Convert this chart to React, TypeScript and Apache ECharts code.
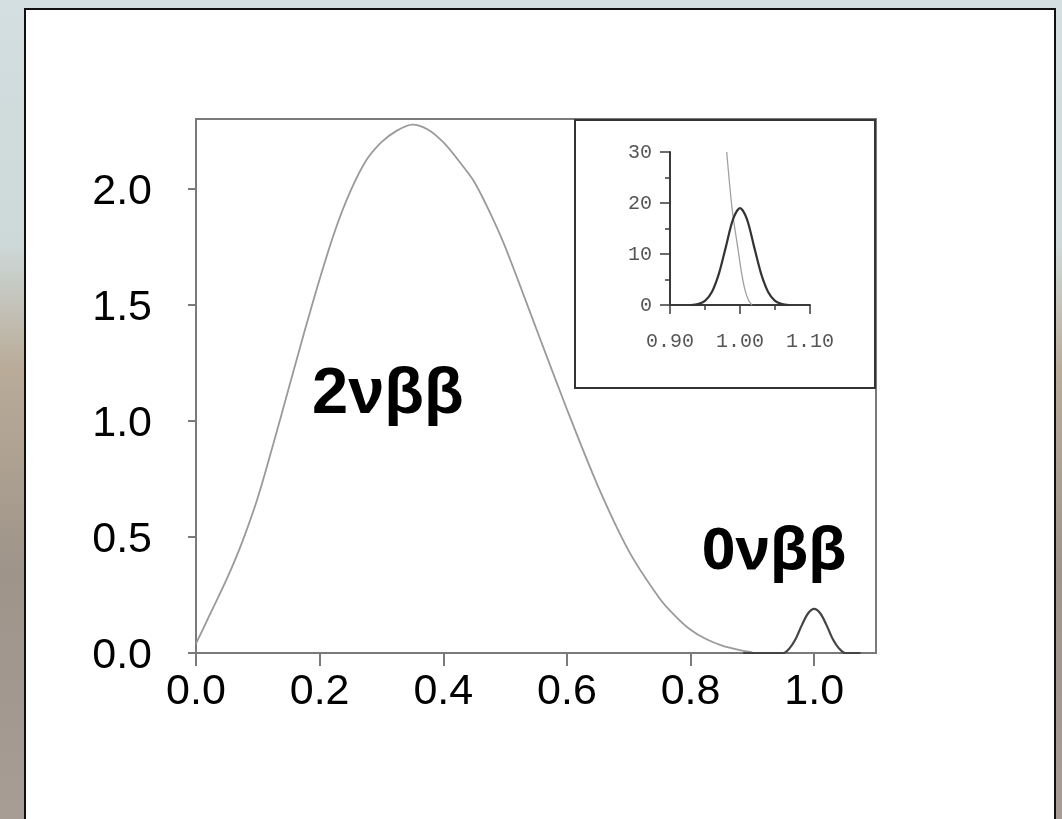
import React, { useEffect, useRef } from "react";
import * as echarts from "echarts";

// Main plot: 2νββ continuum (x = energy / Q, y = rate)
const twoNuX = [0.0, 0.025, 0.05, 0.075, 0.1, 0.125, 0.15, 0.175, 0.2, 0.225, 0.25, 0.275, 0.3, 0.325, 0.35, 0.375, 0.4, 0.425, 0.45, 0.475, 0.5, 0.55, 0.6, 0.65, 0.7, 0.75, 0.775, 0.8, 0.825, 0.85, 0.88, 0.9];
const twoNuY = [0.04, 0.18, 0.32, 0.48, 0.67, 0.9, 1.14, 1.38, 1.61, 1.82, 1.99, 2.12, 2.2, 2.25, 2.276, 2.255, 2.2, 2.12, 2.03, 1.9, 1.75, 1.4, 1.05, 0.72, 0.44, 0.235, 0.16, 0.1, 0.06, 0.033, 0.012, 0.003];

// Main plot: 0νββ peak
const zeroNuX = [0.885, 0.95, 0.96, 0.97, 0.98, 0.99, 1.0, 1.01, 1.02, 1.03, 1.04, 1.05, 1.075];
const zeroNuY = [0, 0, 0.02, 0.06, 0.12, 0.17, 0.19, 0.17, 0.12, 0.06, 0.02, 0, 0];

// Inset: zoom around the endpoint
const insetPeakX = [0.93, 0.94, 0.95, 0.96, 0.97, 0.98, 0.99, 1.0, 1.01, 1.02, 1.03, 1.04, 1.05, 1.06, 1.07];
const insetPeakY = [0, 0.2, 0.8, 2.6, 6.2, 11.5, 16.8, 19, 16.8, 11.5, 6.2, 2.6, 0.8, 0.2, 0];
const insetTailX = [0.981, 0.989, 0.996, 1.002, 1.007, 1.012, 1.017];
const insetTailY = [30, 18.5, 12, 6.5, 3, 1, 0];

const mainXTicks = [0, 0.2, 0.4, 0.6, 0.8, 1.0];
const mainYTicks = [0, 0.5, 1.0, 1.5, 2.0];

const labelTwoNu = "2νββ";
const labelZeroNu = "0νββ";

const pairs = (xs: number[], ys: number[]) => xs.map((x, i) => [x, ys[i]]);

export default function App() {
  const ref = useRef<HTMLDivElement>(null);
  useEffect(() => {
    if (!ref.current) return;
    const chart = echarts.init(ref.current, null, { renderer: "svg" });
    const axisGray = "#7a7a7a";
    const insetDark = "#3a3a3a";
    const tickFont = "'Liberation Sans', Arial, sans-serif";
    chart.setOption({
      animation: false,
      backgroundColor: "transparent",
      graphic: [
        {
          type: "rect",
          z: -10,
          shape: { x: 0, y: 0, width: 1062, height: 819 },
          style: {
            fill: new echarts.graphic.LinearGradient(0, 0, 0, 1, [
              { offset: 0, color: "#d3dfe0" },
              { offset: 0.3, color: "#cdd8d8" },
              { offset: 0.45, color: "#b9ab98" },
              { offset: 0.7, color: "#9f948a" },
              { offset: 1, color: "#a79d95" },
            ]),
          },
        },
        {
          type: "rect",
          z: -9,
          shape: { x: 25, y: 9, width: 1030, height: 830 },
          style: { fill: "#ffffff", stroke: "#111111", lineWidth: 2 },
        },
        {
          type: "rect",
          z: 3,
          shape: { x: 575, y: 120, width: 300, height: 268 },
          style: { fill: "#ffffff", stroke: "#333333", lineWidth: 2 },
        },
        {
          type: "text",
          z: 10,
          x: 312,
          y: 390,
          style: {
            text: labelTwoNu,
            font: "bold 65px 'Liberation Sans', Arial, sans-serif",
            fill: "#000",
            textVerticalAlign: "middle",
          },
        },
        {
          type: "text",
          z: 10,
          x: 702,
          y: 546,
          style: {
            text: labelZeroNu,
            font: "bold 58px 'Open Sans', 'Noto Sans', sans-serif",
            fill: "#000",
            textVerticalAlign: "middle",
          },
        },
      ],
      grid: [
        {
          left: 196,
          top: 119,
          width: 680,
          height: 534,
          show: true,
          borderColor: axisGray,
          borderWidth: 2,
          backgroundColor: "transparent",
        },
        {
          left: 670,
          top: 152,
          width: 140,
          height: 153,
          show: false,
          z: 5,
        },
      ],
      xAxis: [
        {
          type: "value",
          gridIndex: 0,
          min: 0,
          max: 1.1,
          splitLine: { show: false },
          axisLine: { show: true, lineStyle: { color: axisGray, width: 2 } },
          axisTick: {
            show: true,
            inside: false,
            length: 13,
            customValues: mainXTicks,
            lineStyle: { color: axisGray, width: 2 },
          },
          axisLabel: {
            customValues: mainXTicks,
            formatter: (v: number) => v.toFixed(1),
            color: "#000",
            fontSize: 43,
            fontFamily: tickFont,
            margin: 14,
          },
        },
        {
          type: "value",
          gridIndex: 1,
          min: 0.9,
          max: 1.1,
          interval: 0.1,
          z: 5,
          splitLine: { show: false },
          axisLine: { show: true, lineStyle: { color: insetDark, width: 2 } },
          axisTick: { show: true, length: 9, lineStyle: { color: insetDark, width: 1.5 } },
          minorTick: { show: true, splitNumber: 2, length: 5, lineStyle: { color: insetDark, width: 1.5 } },
          axisLabel: {
            formatter: (v: number) => v.toFixed(2),
            color: "#555",
            fontSize: 20,
            fontFamily: "'Liberation Mono', 'DejaVu Sans Mono', monospace",
            margin: 26,
          },
        },
      ],
      yAxis: [
        {
          type: "value",
          gridIndex: 0,
          min: 0,
          max: 2.3,
          splitLine: { show: false },
          axisLine: { show: true, lineStyle: { color: axisGray, width: 2 } },
          axisTick: {
            show: true,
            length: 8,
            customValues: mainYTicks,
            lineStyle: { color: axisGray, width: 2 },
          },
          axisLabel: {
            customValues: mainYTicks,
            formatter: (v: number) => v.toFixed(1),
            color: "#000",
            fontSize: 43,
            fontFamily: tickFont,
            margin: 44,
          },
        },
        {
          type: "value",
          gridIndex: 1,
          min: 0,
          max: 30,
          interval: 10,
          z: 5,
          splitLine: { show: false },
          axisLine: { show: true, lineStyle: { color: insetDark, width: 2 } },
          axisTick: { show: true, length: 10, lineStyle: { color: insetDark, width: 1.5 } },
          minorTick: { show: true, splitNumber: 2, length: 5, lineStyle: { color: insetDark, width: 1.5 } },
          axisLabel: {
            color: "#555",
            fontSize: 20,
            fontFamily: "'Liberation Mono', 'DejaVu Sans Mono', monospace",
            margin: 18,
          },
        },
      ],
      series: [
        {
          type: "line",
          name: "2vbb",
          xAxisIndex: 0,
          yAxisIndex: 0,
          data: pairs(twoNuX, twoNuY),
          smooth: 0.3,
          symbol: "none",
          lineStyle: { color: "#9a9a9a", width: 1.8 },
          z: 2,
        },
        {
          type: "line",
          name: "0vbb",
          xAxisIndex: 0,
          yAxisIndex: 0,
          data: pairs(zeroNuX, zeroNuY),
          smooth: 0.3,
          symbol: "none",
          lineStyle: { color: "#444444", width: 2.2 },
          z: 2,
        },
        {
          type: "line",
          name: "inset tail",
          xAxisIndex: 1,
          yAxisIndex: 1,
          data: pairs(insetTailX, insetTailY),
          smooth: 0.3,
          symbol: "none",
          lineStyle: { color: "#a0a0a0", width: 1.3 },
          z: 6,
        },
        {
          type: "line",
          name: "inset peak",
          xAxisIndex: 1,
          yAxisIndex: 1,
          data: pairs(insetPeakX, insetPeakY),
          smooth: 0.3,
          symbol: "none",
          lineStyle: { color: "#333333", width: 2.2 },
          z: 6,
        },
      ],
    });
    return () => chart.dispose();
  }, []);
  return (
    <div
      ref={ref}
      style={{ position: "fixed", left: 0, top: 0, width: 1062, height: 819 }}
    />
  );
}
